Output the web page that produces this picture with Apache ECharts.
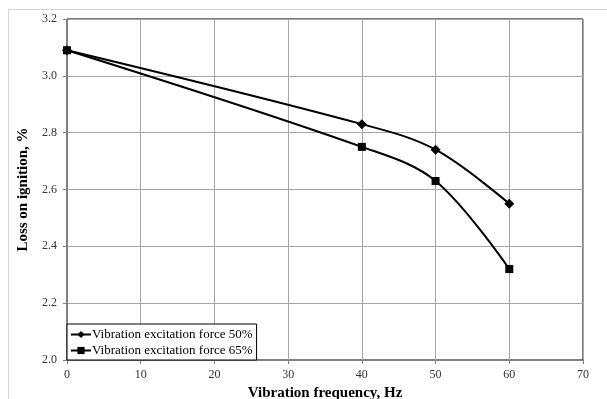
<!DOCTYPE html>
<html>
<head>
<meta charset="utf-8">
<script src="https://cdn.jsdelivr.net/npm/echarts@6/dist/echarts.min.js"></script>
<style>
  html, body { margin: 0; padding: 0; background: #fff; }
  #chart { width: 607px; height: 399px; }
</style>
</head>
<body>
<div id="chart"></div>
<script>
// data
const freqs = [0, 40, 50, 60];
const force50 = [3.09, 2.83, 2.74, 2.55];
const force65 = [3.09, 2.75, 2.63, 2.32];
const seriesNames = ['Vibration excitation force 50%', 'Vibration excitation force 65%'];

const serif = '"Liberation Serif", "Times New Roman", serif';

const chart = echarts.init(document.getElementById('chart'));
chart.setOption({
  animation: false,
  graphic: [{
    type: 'rect',
    shape: { x: 8.5, y: 9.5, width: 700, height: 500 },
    style: { fill: 'none', stroke: '#d4d4d4', lineWidth: 1 },
    z: -1
  }],
  grid: {
    left: 67, top: 19, right: 24, bottom: 39,
    outerBoundsMode: 'none',
    show: true, borderColor: '#000', borderWidth: 1
  },
  legend: {
    orient: 'vertical',
    left: 67,
    bottom: 39,
    padding: [4, 4, 3, 3],
    itemGap: 3,
    itemWidth: 20,
    itemHeight: 9,
    backgroundColor: '#fff',
    borderColor: '#000',
    borderWidth: 1,
    borderRadius: 0,
    textStyle: { fontFamily: serif, fontSize: 13, color: '#000', padding: [0, 0, 0, -4] },
    data: seriesNames
  },
  xAxis: {
    type: 'value',
    min: 0, max: 70, interval: 10,
    name: 'Vibration frequency, Hz',
    nameLocation: 'middle',
    nameGap: 18,
    nameTextStyle: { fontFamily: serif, fontSize: 15, fontWeight: 'bold', color: '#000' },
    axisLine: { lineStyle: { color: '#808080' } },
    axisTick: { show: true, length: 4, lineStyle: { color: '#808080' } },
    axisLabel: { fontFamily: serif, fontSize: 12, color: '#333', margin: 9 },
    splitLine: { show: true, lineStyle: { color: '#a6a6a6' } }
  },
  yAxis: {
    type: 'value',
    min: 2.0, max: 3.2, interval: 0.2,
    name: 'Loss on ignition, %',
    nameLocation: 'middle',
    nameGap: 33,
    nameTextStyle: { fontFamily: serif, fontSize: 15, fontWeight: 'bold', color: '#000' },
    axisLine: { show: true, lineStyle: { color: '#808080' } },
    axisTick: { show: true, length: 4, lineStyle: { color: '#808080' } },
    axisLabel: { fontFamily: serif, fontSize: 12, color: '#333', margin: 10, formatter: v => v.toFixed(1) },
    splitLine: { show: true, lineStyle: { color: '#a6a6a6' } }
  },
  series: [
    {
      name: seriesNames[0],
      type: 'line',
      smooth: 0.35,
      symbol: 'diamond',
      symbolSize: 10,
      itemStyle: { color: '#000' },
      lineStyle: { color: '#000', width: 2 },
      data: freqs.map((f, i) => [f, force50[i]])
    },
    {
      name: seriesNames[1],
      type: 'line',
      smooth: 0.35,
      symbol: 'rect',
      symbolSize: 8,
      itemStyle: { color: '#000' },
      lineStyle: { color: '#000', width: 2 },
      data: freqs.map((f, i) => [f, force65[i]])
    }
  ]
});
</script>
</body>
</html>
